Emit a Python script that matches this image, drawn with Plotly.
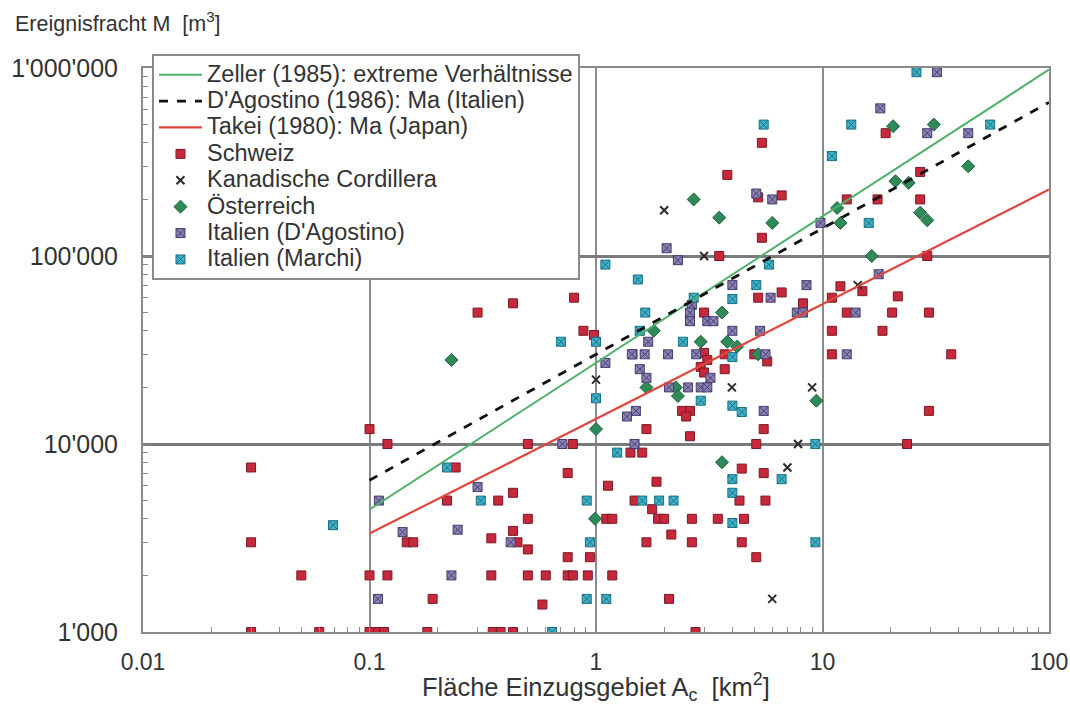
import numpy as np
import plotly.graph_objects as go

# ---------------- data ----------------
x_tickvals = [0.01, 0.1, 1, 10, 100]
x_ticktext = ["0.01", "0.1", "1", "10", "100"]
y_tickvals = [1e3, 1e4, 1e5, 1e6]
y_ticktext = ["1'000", "10'000", "100'000", "1'000'000"]

# power laws M = c * A^b
zeller_coef = [27000, 0.78]
dagostino_coef = [30000, 0.67]
takei_coef = [13600, 0.61]
line_range = [0.1, 100]

schweiz_A = [0.03, 0.03, 0.03, 0.05, 0.06, 0.1, 0.1, 0.1, 0.109, 0.116, 0.12, 0.12, 0.146, 0.156,
             0.18, 0.19, 0.24, 0.3, 0.43, 0.8, 0.88, 0.98, 0.22, 0.37, 0.43, 0.5, 0.43, 0.345,
             0.45, 0.5, 0.75, 0.75, 0.94, 1.11, 1.18, 0.345, 0.5, 0.6, 0.75, 0.79, 0.92, 1.18,
             0.58, 0.35, 0.38, 0.43, 0.5, 0.79, 1.13, 1.42, 1.6, 1.48,
             3.8, 5.4, 5.2, 6.6, 5.4, 3.5, 12.8, 19, 27, 17.5, 27, 12, 15, 11, 21.5, 12.8,
             20.3, 29.5, 11, 18.4, 11, 37, 29.5, 23.6, 29, 6.6, 5.2, 8.2, 3.0, 3.7, 5.0, 5.7,
             3.0, 3.1, 2.9, 3.0, 3.7, 2.4, 2.6, 2.5, 1.67, 5.5, 2.6, 5.1, 4.4, 5.5, 1.85, 4.3,
             5.6, 1.77, 1.88, 2.0, 2.65, 3.45, 4.5, 2.15, 1.67, 2.65, 4.4, 5.1, 2.1, 2.75]
schweiz_M = [7500, 3000, 1000, 2000, 1000, 12000, 2000, 1000, 1000, 1000, 10000, 2000, 3000, 3000,
             1000, 1500, 7500, 50000, 56000, 60000, 40000, 38000, 5000, 5000, 5500, 4000, 3450, 3150,
             3000, 2750, 7000, 2500, 2500, 4000, 4000, 2000, 2000, 2000, 2000, 2000, 2000, 2000,
             1400, 1000, 1000, 1000, 10000, 10000, 6000, 9000, 9000, 5000,
             270000, 400000, 205000, 210000, 125000, 100000, 200000, 450000, 280000, 200000, 200000,
             69000, 65000, 60000, 61000, 50000,
             50000, 50000, 40000, 40000, 30000, 30000, 15000, 10000, 100000, 64000, 60000, 56000,
             50000, 30000, 30000, 27500,
             30500, 28000, 25700, 24000, 25000, 15000, 15000, 14000, 12000, 12000, 11000, 10000,
             7400, 7000, 6300, 5000,
             5000, 4500, 4000, 4000, 4000, 4000, 4000, 3300, 3000, 3000, 3000, 2500, 1500, 1000]

kanada_A = [1.0, 2.0, 3.0, 3.98, 9.0, 7.0, 7.8, 6.0, 14.3]
kanada_M = [22000, 175000, 100000, 20000, 20000, 7500, 10000, 1500, 70000]

oesterreich_A = [0.23, 1.0, 0.99, 2.7, 3.5, 6.0, 11.6, 12, 20.5, 31, 44, 21, 24, 27, 29, 16.5,
                 3.6, 1.8, 2.9, 3.8, 4.2, 5.2, 1.67, 2.25, 2.3, 9.4, 3.6]
oesterreich_M = [28000, 12000, 4000, 200000, 160000, 150000, 180000, 150000, 490000, 500000,
                 300000, 250000, 245000, 170000, 155000, 100000,
                 50000, 40000, 35000, 35000, 33000, 30000, 20000, 20000, 18000, 17000, 8000]

ital_dag_A = [0.11, 0.109, 0.14, 0.245, 0.23, 0.3, 0.42, 0.71, 1.45, 1.1, 1.37, 1.5, 5.1, 6.0,
              2.05, 2.3, 9.8, 32, 18, 29, 44, 17.7, 14, 12.8, 4.0, 8.5, 5.9, 2.65, 7.7, 8.2,
              2.6, 2.6, 3.1, 3.3, 1.7, 4.0, 5.3, 5.6, 1.44, 1.64, 2.08, 2.77, 3.2, 1.56, 1.67,
              2.1, 2.55, 2.9, 3.1, 5.5, 1.48]
ital_dag_M = [5000, 1500, 3400, 3500, 2000, 5900, 3000, 10000, 30000, 27000, 14000, 15000, 215000,
              200000, 110000, 95000, 150000, 950000, 610000, 450000, 450000, 80000, 50000, 30000,
              70000, 70000, 60000, 55000, 50000, 50000,
              50000, 45000, 45000, 45000, 35000, 40000, 40000, 30000, 30000, 30000, 30000, 30000,
              22500, 25000, 22500,
              20000, 20000, 20000, 20000, 15000, 10000]

ital_mar_A = [0.069, 0.22, 0.31, 0.64, 0.7, 1.0, 1.0, 1.1, 1.53, 0.91, 0.94, 0.91, 1.11, 1.24,
              5.5, 5.8, 11, 13.4, 26, 55, 16, 5.1, 2.7, 4.0, 1.65, 1.56, 2.42, 4.0, 2.9, 4.0,
              4.4, 9.3, 6.6, 4.0, 4.0, 1.6, 1.9, 2.2, 4.0, 9.3]
ital_mar_M = [3700, 7500, 5000, 1000, 35000, 35000, 17500, 90000, 75000, 5000, 3000, 1500, 1500,
              9000, 500000, 90000, 340000, 500000, 950000, 500000, 150000, 70000, 60000, 59000,
              50000, 40000, 35000, 29000, 17000, 16000,
              14800, 10000, 6500, 6500, 5500, 5000, 5000, 5000, 3800, 3000]

# ---------------- figure ----------------
FONT = "Liberation Sans, Arial, sans-serif"
LEG = '<span style="font-size:23.5px">{}</span>'
fig = go.Figure()

def add_pts(A, M, name, symbol, fill, edge, size, lw, rank):
    fig.add_trace(go.Scatter(
        x=A, y=M, mode="markers", name=LEG.format(name), legendrank=rank,
        marker=dict(symbol=symbol, color=fill, size=size, line=dict(color=edge, width=lw)),
    ))

add_pts(schweiz_A, schweiz_M, "Schweiz", "square", "#c8283c", "#7a1a26", 9, 1, 4)
add_pts(kanada_A, kanada_M, "Kanadische Cordillera", "x-thin-open", "#2a2a2a", "#2a2a2a", 8, 2, 5)
add_pts(oesterreich_A, oesterreich_M, "Österreich", "diamond", "#2e8b57", "#1f5e3b", 10, 1, 6)
add_pts(ital_dag_A, ital_dag_M, "Italien (D'Agostino)", "square-x", "#8a82b2", "#463c70", 9, 1, 7)
add_pts(ital_mar_A, ital_mar_M, "Italien (Marchi)", "square-x", "#3fb2c8", "#1b6f83", 9, 1, 8)

A_line = np.logspace(np.log10(line_range[0]), np.log10(line_range[1]), 60)
for coef, name, col, dash, w, rank in [
    (zeller_coef, "Zeller (1985): extreme Verhältnisse", "#4fb06b", "solid", 2, 1),
    (dagostino_coef, "D'Agostino (1986): Ma (Italien)", "#111111", "dash", 2.8, 2),
    (takei_coef, "Takei (1980): Ma (Japan)", "#e0463c", "solid", 2.2, 3),
]:
    fig.add_trace(go.Scatter(
        x=A_line, y=coef[0] * A_line ** coef[1], mode="lines", name=LEG.format(name),
        legendrank=rank, line=dict(color=col, dash=dash, width=w),
    ))

axis_common = dict(
    type="log", showline=True, linecolor="#8a8a8a", linewidth=2, mirror=True,
    ticks="inside", ticklen=8, tickcolor="#8a8a8a", tickwidth=1,
    minor=dict(ticks="inside", ticklen=5, tickcolor="#8a8a8a", dtick="D1", showgrid=False),
    zeroline=False,
)

fig.update_xaxes(**axis_common, range=[-2, 2], tickvals=x_tickvals, ticktext=x_ticktext,
                 tickfont=dict(family=FONT, size=23, color="#333333"),
                 showgrid=True, gridcolor="#8c8c8c", gridwidth=1.5, ticklabelstandoff=8)
fig.update_yaxes(**axis_common, range=[3, 6], tickvals=y_tickvals, ticktext=y_ticktext,
                 tickfont=dict(family=FONT, size=25, color="#333333"),
                 showgrid=True, gridcolor="#7a7a7a", gridwidth=2.5, ticklabelstandoff=18)

fig.update_layout(
    width=1070, height=704,
    margin=dict(l=143, r=21, t=68, b=72, autoexpand=False),
    paper_bgcolor="white", plot_bgcolor="white",
    font=dict(family=FONT, size=18, color="#333333"),
    showlegend=True,
    legend=dict(x=0.0099, y=1.024, xanchor="left", yanchor="top",
                bgcolor="white", bordercolor="#8a8a8a", borderwidth=2,
                font=dict(family=FONT, size=18, color="#333333"),
                itemwidth=43, tracegroupgap=0),
    annotations=[
        dict(text="Ereignisfracht M  [m<sup>3</sup>]", xref="paper", yref="paper",
             x=-0.144, y=1.082, xanchor="left", yanchor="middle", showarrow=False,
             font=dict(family=FONT, size=21.5, color="#333333")),
        dict(text="Fläche Einzugsgebiet A<sub>c</sub>  [km<sup>2</sup>]", xref="paper", yref="paper",
             x=0.5, y=-0.097, xanchor="center", yanchor="middle", showarrow=False,
             font=dict(family=FONT, size=25.5, color="#333333")),
    ],
)

fig.write_html("out.html", config={"displayModeBar": False},
               post_script="document.body.style.margin='0px';")
